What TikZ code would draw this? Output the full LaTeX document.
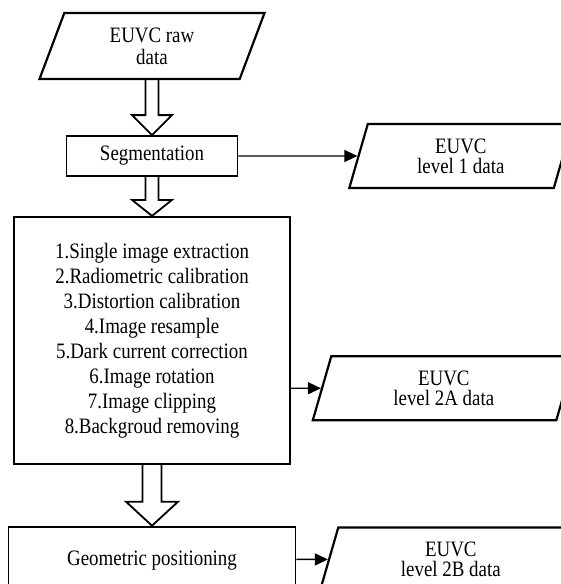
\documentclass[tikz,border=0pt]{standalone}
\usepackage{fontspec}
\setmainfont{Liberation Serif}[FakeStretch=0.86]
\usetikzlibrary{shapes.geometric, arrows.meta, positioning}

\begin{document}
\begin{tikzpicture}[
    font=\fontsize{22}{25}\selectfont,
    stepbox/.style={rectangle, draw, line width=1.8pt, align=center, inner sep=0pt},
    datapar/.style={trapezium, trapezium left angle=62, trapezium right angle=118,
                trapezium stretches body, draw, line width=2.2pt, align=center,
                inner sep=0pt, minimum height=64pt, font=\fontsize{22}{20}\selectfont},
    arrow/.style={-{Triangle[length=13pt, width=12pt]}, line width=1.4pt},
    hollow/.style args={#1/#2/#3}{line width=1.8pt, to path={
        ([xshift=-#1]\tikztostart) -- ([xshift=-#1, yshift=#3]\tikztotarget)
        -- ([xshift=-#2, yshift=#3]\tikztotarget) -- (\tikztotarget)
        -- ([xshift=#2, yshift=#3]\tikztotarget) -- ([xshift=#1, yshift=#3]\tikztotarget)
        -- ([xshift=#1]\tikztostart)}}
]
\fill[white] (0,0) rectangle (561pt,-584pt);
\useasboundingbox (0,0) rectangle (561pt,-584pt);

\node[datapar, trapezium left angle=56, trapezium right angle=124, minimum width=225pt,
      minimum height=66pt, font=\fontsize{22}{22}\selectfont] (raw) at (152pt,-46pt) {EUVC raw\\data};
\node[stepbox, below=55pt of raw, minimum width=171pt, minimum height=40pt] (seg) {Segmentation};
\node[stepbox, below=39pt of seg, minimum width=276pt, minimum height=247pt] (steps)
    {1.Single image extraction\\2.Radiometric calibration\\3.Distortion calibration\\4.Image resample\\
     5.Dark current correction\\6.Image rotation\\7.Image clipping\\8.Backgroud removing};
\node[stepbox, below=61pt of steps, minimum width=287pt, minimum height=68pt] (geo) {Geometric positioning};
\node[datapar, right=119pt of seg, minimum width=223pt] (lvl1) {EUVC\\level 1 data};
\node[datapar, below=166pt of lvl1, xshift=-17pt, minimum width=262pt] (lvl2a) {EUVC\\level 2A data};
\node[datapar, below=105pt of lvl2a, xshift=7pt, minimum width=262pt] (lvl2b) {EUVC\\level 2B data};

\draw[hollow=6.5pt/20pt/20pt] (raw.south) to (seg.north);
\draw[hollow=6.5pt/20pt/16pt] (seg.south) to (steps.north);
\draw[hollow=9.5pt/26pt/24pt] (steps.south) to (geo.north);
\draw[arrow] (seg) -- (lvl1);
\draw[arrow] (steps.east |- lvl2a) -- (lvl2a);
\draw[arrow] (geo.east |- lvl2b) -- (lvl2b);
\end{tikzpicture}
\end{document}
